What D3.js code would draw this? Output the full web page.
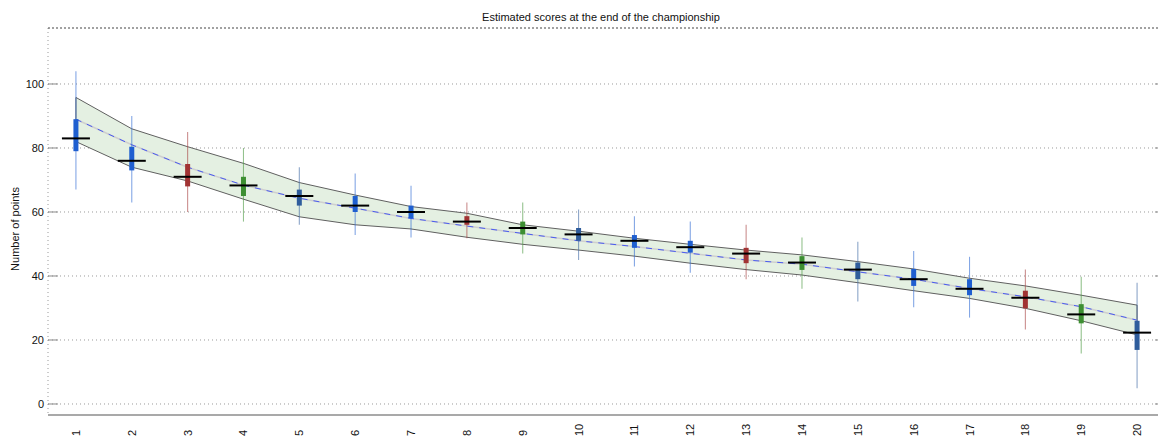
<!DOCTYPE html>
<html>
<head>
<meta charset="utf-8">
<script src="https://cdn.jsdelivr.net/npm/d3@7"></script>
<style>
  body { margin: 0; background: #fff; }
  svg { display: block; font-family: "Liberation Sans", Arial, sans-serif; }
  .grid line { stroke: #9a9a9a; stroke-dasharray: 1,3; }
</style>
</head>
<body>
<svg id="chart" width="1158" height="437"></svg>
<script>
// ---- data ----
const ranks = d3.range(1, 21);
const teamGroup = ["B","B","R","G","S","B","B","R","G","S","B","B","R","G","S","B","B","R","G","S"];
const whiskerHigh = [104, 90, 85, 80, 74, 72, 68.2, 63, 63, 60.8, 58.7, 57, 56, 52, 50.7, 47.8, 46, 42, 39.8, 37.9];
const whiskerLow  = [67, 63, 60, 57, 56, 52.8, 52, 51.8, 47, 45, 43, 41, 39, 36, 32, 30.2, 27, 23.3, 15.8, 4.9];
const boxHigh     = [89, 80.4, 75, 71, 67, 65, 62, 58.7, 57, 55, 52.8, 51, 48.8, 46.2, 44.2, 42.2, 39, 35.4, 31.2, 26];
const boxLow      = [79, 73, 68, 65, 62, 60, 58, 56, 53, 51, 48.8, 47.3, 44, 41.9, 39, 36.9, 34, 29.9, 25.2, 16.9];
const medians     = [83, 76, 71, 68.3, 65, 62, 60, 57, 55, 53, 51, 49, 47, 44.2, 42, 39, 36, 33.2, 28, 22.3];
const bandUpper   = [95.8, 86, 80.4, 75.2, 69.2, 65.3, 61.7, 59.6, 56, 54, 51.8, 49.9, 48.1, 46.6, 44.5, 42.2, 39.3, 36.9, 34, 30.9];
const bandCenter  = [89, 81, 74, 68.4, 64.3, 61.2, 58, 55.6, 53.3, 51, 49.2, 47.1, 45, 43.7, 41.3, 39, 36.1, 33.5, 30.4, 26.2];
const bandLower   = [82, 74, 69.7, 64, 58.5, 56, 54.7, 52.1, 49.9, 48.1, 46.2, 44, 42, 40.3, 37.9, 35.4, 33, 29.9, 26, 21.6];
const yTicks = [0, 20, 40, 60, 80, 100];

const groupColor = { B: "#1f5fd0", S: "#2f5d9c", R: "#a13333", G: "#3d8f32" };

// ---- layout ----
const W = 1158, H = 437;
const plot = { left: 48, right: 1165, top: 28, bottom: 415 };

const svg = d3.select("#chart");

const x = d3.scaleLinear().domain([0.5, 20.5]).range([plot.left, plot.right]);
const y = d3.scaleLinear().domain([-3.44, 117.5]).range([plot.bottom, plot.top]);

// grid
const grid = svg.append("g").attr("class", "grid");
grid.selectAll("line.h").data(yTicks).join("line")
    .attr("class", "h")
    .attr("x1", plot.left).attr("x2", plot.right)
    .attr("y1", d => y(d)).attr("y2", d => y(d));
grid.append("line")
    .attr("x1", plot.left).attr("x2", plot.left)
    .attr("y1", plot.top).attr("y2", plot.bottom);

// top border
svg.append("line")
    .attr("x1", plot.left).attr("x2", plot.right)
    .attr("y1", plot.top).attr("y2", plot.top)
    .attr("stroke", "#444").attr("stroke-width", 1.2)
    .attr("stroke-dasharray", "2,2");

// y tick marks (inside, both sides)
svg.append("g").selectAll("line").data(yTicks).join("line")
    .attr("x1", plot.left).attr("x2", plot.left + 10)
    .attr("y1", d => y(d)).attr("y2", d => y(d))
    .attr("stroke", "#8a8a8a").attr("stroke-width", 1);
svg.append("g").selectAll("line").data(yTicks).join("line")
    .attr("x1", plot.right - 10).attr("x2", plot.right)
    .attr("y1", d => y(d)).attr("y2", d => y(d))
    .attr("stroke", "#8a8a8a").attr("stroke-width", 1);

// y tick labels
svg.append("g").selectAll("text").data(yTicks).join("text")
    .attr("x", plot.left - 4)
    .attr("y", d => y(d))
    .attr("dy", "0.35em")
    .attr("text-anchor", "end")
    .attr("font-size", 11)
    .attr("fill", "#111")
    .text(d => d);

// bottom axis line
svg.append("line")
    .attr("x1", plot.left).attr("x2", plot.right)
    .attr("y1", plot.bottom).attr("y2", plot.bottom)
    .attr("stroke", "#8c8c8c").attr("stroke-width", 1.5);

// x tick labels, rotated
svg.append("g").selectAll("text").data(ranks).join("text")
    .attr("transform", d => `translate(${x(d) + 4}, ${H - 1}) rotate(-90)`)
    .attr("text-anchor", "start")
    .attr("font-size", 11)
    .attr("fill", "#111")
    .text(d => d);

// ---- band ----
const idx = d3.range(ranks.length);
const area = d3.area()
    .x(i => x(ranks[i]))
    .y0(i => y(bandLower[i]))
    .y1(i => y(bandUpper[i]));
svg.append("path")
    .datum(idx)
    .attr("d", area)
    .attr("fill", "#e4f0e2")
    .attr("stroke", "#606060")
    .attr("stroke-width", 1);

const centerLine = d3.line().x(i => x(ranks[i])).y(i => y(bandCenter[i]));
svg.append("path").datum(idx).attr("d", centerLine)
    .attr("fill", "none").attr("stroke", "#cfcfcf").attr("stroke-width", 1.5);
svg.append("path").datum(idx).attr("d", centerLine)
    .attr("fill", "none").attr("stroke", "#4a5cf0").attr("stroke-width", 1)
    .attr("stroke-dasharray", "6,6");

// ---- per-rank distributions ----
const marks = svg.append("g").selectAll("g").data(idx).join("g");

marks.append("line")
    .attr("x1", i => x(ranks[i])).attr("x2", i => x(ranks[i]))
    .attr("y1", i => y(whiskerHigh[i])).attr("y2", i => y(whiskerLow[i]))
    .attr("stroke", i => groupColor[teamGroup[i]])
    .attr("stroke-opacity", 0.55)
    .attr("stroke-width", 1.1);

marks.append("rect")
    .attr("x", i => x(ranks[i]) - 2.5)
    .attr("width", 5)
    .attr("y", i => y(boxHigh[i]))
    .attr("height", i => y(boxLow[i]) - y(boxHigh[i]))
    .attr("fill", i => groupColor[teamGroup[i]]);

marks.append("line")
    .attr("x1", i => x(ranks[i]) - 14).attr("x2", i => x(ranks[i]) + 14)
    .attr("y1", i => y(medians[i])).attr("y2", i => y(medians[i]))
    .attr("stroke", "#000").attr("stroke-width", 2);

// ---- titles ----
svg.append("text")
    .attr("x", 601).attr("y", 21)
    .attr("text-anchor", "middle")
    .attr("font-size", 11)
    .attr("fill", "#111")
    .text("Estimated scores at the end of the championship");

svg.append("text")
    .attr("transform", "translate(19, 229) rotate(-90)")
    .attr("text-anchor", "middle")
    .attr("font-size", 11)
    .attr("fill", "#111")
    .text("Number of points");
</script>
</body>
</html>
